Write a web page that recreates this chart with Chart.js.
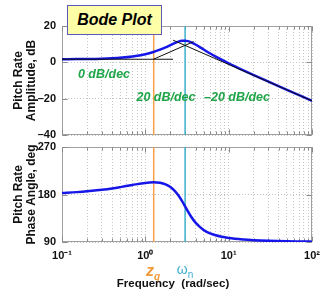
<!DOCTYPE html>
<html><head><meta charset="utf-8">
<script src="https://cdn.jsdelivr.net/npm/chart.js@4/dist/chart.umd.min.js"></script>
<style>
html,body{margin:0;padding:0;background:#fff;}
#wrap{position:relative;width:323px;height:293px;overflow:hidden;font-family:"Liberation Sans",Arial,Helvetica,sans-serif;}
canvas{position:absolute;left:0;}
#c1{top:0;} #c2{top:140px;}
.lbl{position:absolute;white-space:pre;font-weight:bold;transform:translate(-50%,-50%);line-height:1;}
#bode{position:absolute;left:67px;top:5px;width:93px;height:28px;background:#FFFFA8;border:1px solid #5a5ab8;font-weight:bold;font-style:italic;font-size:16px;text-align:center;line-height:28px;color:#000;}
.grn{color:#1fa548;font-style:italic;font-size:12.5px;}
</style></head>
<body>
<div id="wrap">
<canvas id="c1" width="323" height="140"></canvas>
<canvas id="c2" width="323" height="153"></canvas>
<div id="bode">Bode Plot</div>
<div class="lbl grn" style="left:104px;top:74px;">0 dB/dec</div>
<div class="lbl grn" style="left:166px;top:97px;">20 dB/dec</div>
<div class="lbl grn" style="left:237px;top:97px;">–20 dB/dec</div>
<div class="lbl" style="left:153px;top:271px;color:#f39a3c;font-style:italic;font-size:16px;">z<span style="font-size:10px;position:relative;top:4px;">q</span></div>
<div class="lbl" style="left:185px;top:269px;color:#3aaed0;font-weight:normal;font-size:14px;">ω<span style="font-size:10px;position:relative;top:4px;">n</span></div>
<div class="lbl" style="left:173px;top:284px;color:#111;font-size:11.5px;">Frequency  (rad/sec)</div>
</div>
<script>
// ---- data ----
const freq = [0.1,0.15,0.2,0.3,0.4,0.5,0.7,1.0,1.25,1.5,1.75,2.0,2.25,2.5,2.75,3.0,3.25,3.5,4.0,5,6,7,8,10,15,20,30,50,70,100];
const ampDb = [1.73,1.78,1.84,2.00,2.23,2.51,3.21,4.50,5.71,6.99,8.26,9.48,10.56,11.38,11.86,11.94,11.67,11.16,9.80,7.07,4.88,3.14,1.71,-0.56,-4.41,-7.03,-10.63,-15.11,-18.04,-21.15];
const phaseDeg = [183.0,184.5,186.0,188.9,191.5,194.0,198.1,202.0,203.0,202.1,199.2,194.2,187.0,178.1,167.9,157.4,147.6,139.2,126.6,112.8,106.3,102.7,100.4,97.6,94.7,93.4,92.2,91.3,91.0,90.7];
// asymptotes
const flatAsymFreq = [0.1, 2.15];
const flatAsymDb = [1.7, 1.7];
const riseAsymFreq = [1.25, 3.8];
const riseAsymDb = [1.7, 11.4];
const fallAsymFreq = [2.15, 100];
const fallAsymDb = [12.2, -21.2];
// marker frequencies
const zqFreq = 1.26;
const wnFreq = 3.0;
// axes
const ampRange = [-40, 20];
const phaseRange = [90, 270];
const xRange = [0.1, 100];
const xMajorTicks = [0.1, 1, 10, 100];
const xTickLabels = ['10⁻¹','10⁰','10¹','10²'];
const xGridTicks = [0.1,0.2,0.3,0.4,0.5,0.6,0.7,0.8,0.9,1,2,3,4,5,6,7,8,9,10,20,30,40,50,60,70,80,90,100];

const pts = (xs, ys) => xs.map((x,i)=>({x, y: ys[i]}));
const frame = {id:'frame', beforeDatasetsDraw(chart){
  const a=chart.chartArea, c=chart.ctx; c.save(); c.strokeStyle='#a0a0a0'; c.lineWidth=1;
  const L=Math.round(a.left)+0.5, T=Math.round(a.top)+0.5, R=Math.round(a.right)-0.5, B=Math.round(a.bottom)-0.5;
  c.strokeRect(L, T, R-L, B-T);
  c.strokeStyle='#8a8a8a'; c.beginPath();
  chart.scales.x.ticks.forEach(t=>{
    const px=Math.round(chart.scales.x.getPixelForValue(t.value))+0.5, len=t.major?5:3;
    c.moveTo(px,B); c.lineTo(px,B-len); c.moveTo(px,T); c.lineTo(px,T+len);
  });
  chart.scales.y.ticks.forEach(t=>{
    const py=Math.round(chart.scales.y.getPixelForValue(t.value))+0.5;
    c.moveTo(L,py); c.lineTo(L+5,py); c.moveTo(R,py); c.lineTo(R-5,py);
  });
  c.stroke(); c.restore();
}};
const tickFont = {family:'"Liberation Sans", Arial, sans-serif', size:11, weight:'bold'};
const gridOpts = {color:'#c4c4c4', drawTicks:false, lineWidth:1};
function xScale(showLabels, h){
  return {type:'logarithmic', min:xRange[0], max:xRange[1],
    afterBuildTicks: s => { s.ticks = xGridTicks.map(v=>({value:v, major: xMajorTicks.includes(v)})); },
    ticks:{display:showLabels, autoSkip:false, maxRotation:0, padding:7, color:'#111', font:tickFont,
      callback:(v)=>{ const i = xMajorTicks.indexOf(v); return i>=0 ? xTickLabels[i] : ''; }},
    grid:gridOpts, border:{display:false, dash:[1,2]},
    afterFit: s => { s.height = h; s.paddingLeft = 0; s.paddingRight = 0; }};
}
function yScale(range, step, title){
  return {type:'linear', min:range[0], max:range[1],
    ticks:{stepSize:step, padding:6, color:'#111', font:tickFont, callback:v=>String(v).replace('-','–')},
    grid:gridOpts, border:{display:false, dash:[1,2]},
    title:{display:true, text:title, color:'#111', padding:{top:12,bottom:0},
      font:{family:'"Liberation Sans", Arial, sans-serif', size:12, weight:'bold', lineHeight:1.1}},
    afterFit: s => { s.width = 62; s.paddingTop = 0; s.paddingBottom = 0; }};
}
const vline = (f, range, color) => ({data: pts([f,f], range), borderColor:color, borderWidth:1.5, pointRadius:0, order:3});
const common = {responsive:false, animation:false, devicePixelRatio:1,
  plugins:{legend:{display:false}, tooltip:{enabled:false}}, events:[]};

new Chart(document.getElementById('c1'), {
  type:'line',
  data:{datasets:[
    {data: pts(flatAsymFreq, flatAsymDb), borderColor:'#111', borderWidth:1, pointRadius:0, order:0},
    {data: pts(riseAsymFreq, riseAsymDb), borderColor:'#111', borderWidth:1, pointRadius:0, order:0},
    {data: pts(fallAsymFreq, fallAsymDb), borderColor:'#111', borderWidth:1, pointRadius:0, order:0},
    {data: pts(freq, ampDb), borderColor:'#1616e8', borderWidth:2.5, pointRadius:0, cubicInterpolationMode:'monotone', order:1},
    vline(zqFreq, ampRange, '#f5a04a'),
    vline(wnFreq, ampRange, '#3fb2cc')
  ]},
  options:Object.assign({}, common, {
    layout:{padding:{left:0, right:11, top:26, bottom:0}},
    scales:{x:xScale(false, 5), y:yScale(ampRange, 20, ['Pitch Rate','Amplitude, dB'])}
  }),
  plugins:[frame]
});

new Chart(document.getElementById('c2'), {
  type:'line',
  data:{datasets:[
    {data: pts(freq, phaseDeg), borderColor:'#1616e8', borderWidth:2.5, pointRadius:0, cubicInterpolationMode:'monotone', order:1},
    vline(zqFreq, phaseRange, '#f5a04a'),
    vline(wnFreq, phaseRange, '#3fb2cc')
  ]},
  options:Object.assign({}, common, {
    layout:{padding:{left:0, right:11, top:7, bottom:0}},
    scales:{x:xScale(true, 51), y:yScale(phaseRange, 90, ['Pitch Rate','Phase Angle, deg'])}
  }),
  plugins:[frame]
});
</script>
</body></html>
